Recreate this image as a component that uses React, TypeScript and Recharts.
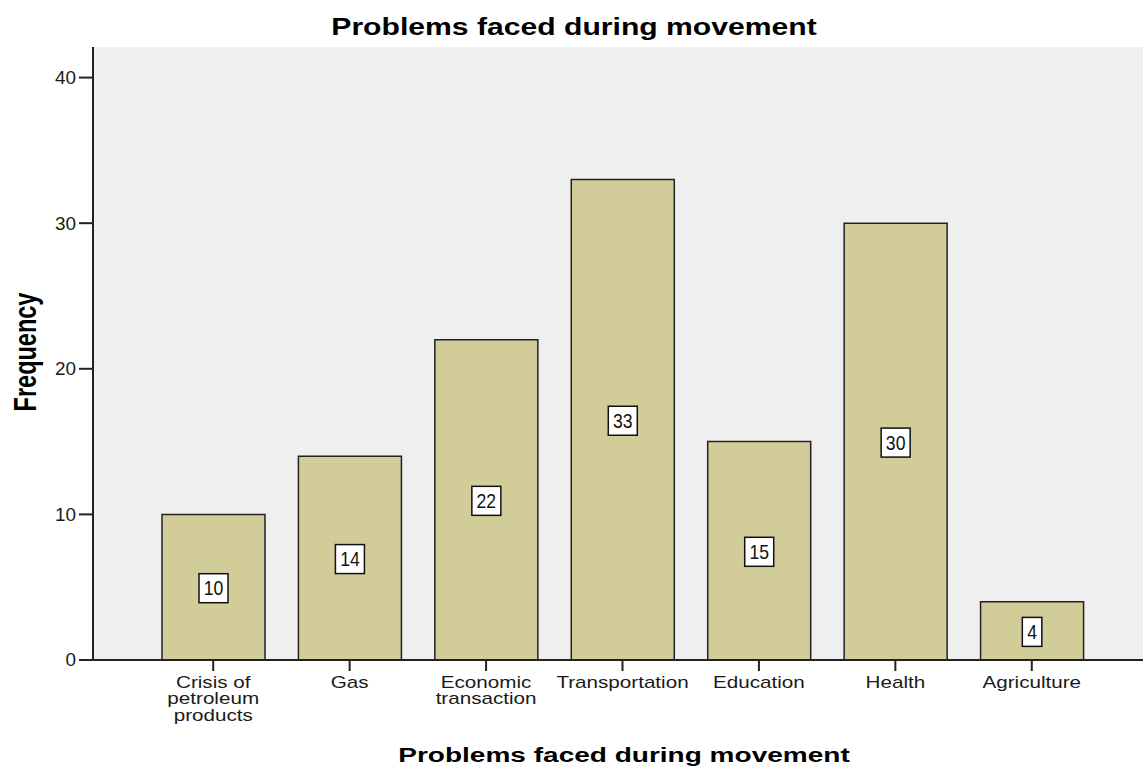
import React from 'react';
import { BarChart, Bar, XAxis, YAxis, CartesianGrid, LabelList } from 'recharts';

const categories = [
  'Crisis of\npetroleum\nproducts',
  'Gas',
  'Economic\ntransaction',
  'Transportation',
  'Education',
  'Health',
  'Agriculture',
];
const frequencies = [10, 14, 22, 33, 15, 30, 4];
const yTicks = [0, 10, 20, 30, 40];
const chartTitle = 'Problems faced during movement';
const xAxisTitle = 'Problems faced during movement';
const yAxisTitle = 'Frequency';

const data = categories.map((c, i) => ({ category: c, value: frequencies[i] }));

const FONT = '"Liberation Sans", Arial, sans-serif';
const W = 1143;
const H = 767;

const XTick = (props: any) => {
  const { x, y, payload } = props;
  const lines = String(payload.value).split('\n');
  return (
    <g transform={`translate(${x},${y})`}>
      <text transform="scale(1.29,1)" textAnchor="middle" fontFamily={FONT} fontSize={16} fill="#1a1a1a">
        {lines.map((l, i) => (
          <tspan key={i} x={0} y={15 + i * 16.5}>
            {l}
          </tspan>
        ))}
      </text>
    </g>
  );
};

const YTick = (props: any) => {
  const { x, y, payload } = props;
  return (
    <g transform={`translate(${x},${y})`}>
      <text transform="scale(1.05,1)" textAnchor="end" dy="0.36em" fontFamily={FONT} fontSize={18} fill="#1a1a1a">
        {payload.value}
      </text>
    </g>
  );
};

const ValueLabel = (props: any) => {
  const { x, y, width, height, value } = props;
  const cx = Number(x) + Number(width) / 2;
  const cy = Number(y) + Number(height) / 2;
  const txt = String(value);
  const bw = txt.length * 9.5 + 10;
  const bh = 29;
  return (
    <g>
      <rect x={cx - bw / 2} y={cy - bh / 2 + 1} width={bw} height={bh} fill="#ffffff" stroke="#111" strokeWidth={1.5} />
      <g transform={`translate(${cx},${cy + 1})`}>
        <text transform="scale(0.88,1)" textAnchor="middle" dy="0.36em" fontFamily={FONT} fontSize={20} fill="#111">
          {txt}
        </text>
      </g>
    </g>
  );
};

export default function App() {
  return (
    <div style={{ position: 'absolute', left: 0, top: 0, width: W, height: H, background: '#fff' }}>
      <BarChart
        width={W}
        height={H}
        data={data}
        margin={{ top: 47, right: 0, bottom: 0, left: 0 }}
      >
        <CartesianGrid horizontal={false} vertical={false} fill="#efefef" stroke="none" />
        <XAxis
          xAxisId="top"
          orientation="top"
          dataKey="category"
          height={0}
          tick={false}
          tickLine={false}
          axisLine={{ stroke: '#5a5a5a', strokeWidth: 2 }}
        />
        <XAxis
          dataKey="category"
          interval={0}
          padding={{ left: 52, right: 43 }}
          height={107}
          tickSize={11}
          tickMargin={2}
          tick={<XTick />}
          tickLine={{ stroke: '#222', strokeWidth: 2 }}
          axisLine={{ stroke: '#222', strokeWidth: 2 }}
        />
        <YAxis
          width={93}
          domain={[0, 42.1]}
          ticks={yTicks}
          allowDataOverflow
          tickSize={14}
          tickMargin={3}
          tick={<YTick />}
          tickLine={{ stroke: '#222', strokeWidth: 2 }}
          axisLine={{ stroke: '#222', strokeWidth: 2 }}
        />
        <Bar dataKey="value" barSize={103} fill="#d2cd98" stroke="#222" strokeWidth={1.5} isAnimationActive={false}>
          <LabelList dataKey="value" content={<ValueLabel />} />
        </Bar>
      </BarChart>
      <svg width={W} height={H} style={{ position: 'absolute', left: 0, top: 0, pointerEvents: 'none' }}>
        <g transform="translate(574,35)">
          <text transform="scale(1.31,1)" textAnchor="middle" fontFamily={FONT} fontWeight="bold" fontSize={23} fill="#000">
            {chartTitle}
          </text>
        </g>
        <g transform="translate(624,761.5)">
          <text transform="scale(1.335,1)" textAnchor="middle" fontFamily={FONT} fontWeight="bold" fontSize={21} fill="#000">
            {xAxisTitle}
          </text>
        </g>
        <g transform="translate(35.5,352) rotate(-90)">
          <text transform="scale(1,1.34)" textAnchor="middle" fontFamily={FONT} fontWeight="bold" fontSize={23.5} fill="#000">
            {yAxisTitle}
          </text>
        </g>
      </svg>
    </div>
  );
}
